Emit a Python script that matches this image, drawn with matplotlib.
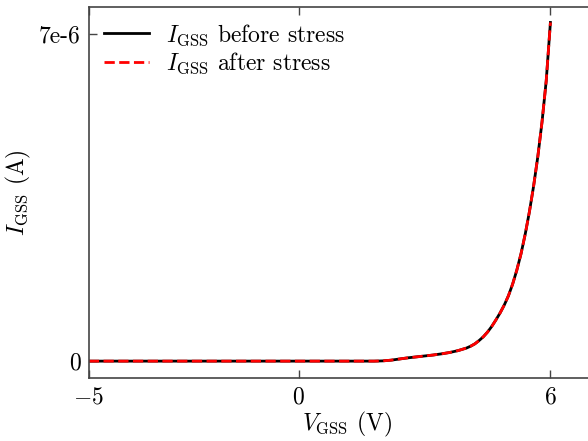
import matplotlib
matplotlib.use("Agg")
import matplotlib.pyplot as plt

plt.rcParams['font.family'] = 'serif'
plt.rcParams['font.serif'] = ['cmr10']
plt.rcParams['mathtext.fontset'] = 'cm'
plt.rcParams['axes.unicode_minus'] = False

v_gss = [-5.0, -4.0, -3.0, -2.0, -1.0, 0.0, 1.0, 1.8, 2.0, 2.2, 2.4, 2.6, 2.8, 3.0,
         3.2, 3.4, 3.6, 3.8, 4.0, 4.1, 4.2, 4.3, 4.4, 4.5, 4.6, 4.7, 4.8, 4.9,
         5.0, 5.1, 5.2, 5.3, 5.4, 5.5, 5.6, 5.7, 5.8, 5.9, 6.0]
i_before = [0.0, 0.0, 0.0, 0.0, 0.0, 0.0, 0.0, 0.0, 0.005, 0.02, 0.045, 0.07, 0.09, 0.11,
            0.13, 0.155, 0.185, 0.225, 0.28, 0.32, 0.37, 0.44, 0.52, 0.62, 0.74, 0.88, 1.03, 1.2,
            1.4, 1.65, 1.95, 2.3, 2.72, 3.2, 3.75, 4.38, 5.12, 6.0, 7.25]
i_after = [0.0, 0.0, 0.0, 0.0, 0.0, 0.0, 0.0, 0.0, 0.005, 0.02, 0.045, 0.07, 0.09, 0.11,
           0.13, 0.155, 0.185, 0.225, 0.28, 0.32, 0.37, 0.44, 0.52, 0.62, 0.74, 0.88, 1.03, 1.2,
           1.4, 1.65, 1.95, 2.3, 2.72, 3.2, 3.75, 4.38, 5.12, 6.0, 7.25]
scale = 1e-6

x_ticks = [-5, 0, 6]
x_ticklabels = ['$-5$', '$0$', '$6$']
y_ticks = [0, 7e-6]
y_ticklabels = ['0', '7e-6']

fig = plt.figure(figsize=(5.88, 4.41), dpi=100)
ax = fig.add_axes([0.151, 0.143, 0.88, 0.841])

ax.plot(v_gss, [i * scale for i in i_before], color='black', lw=2.0,
        label=r'$I_{\mathrm{GSS}}$ before stress')
ax.plot(v_gss, [i * scale for i in i_after], color='red', lw=2.0, ls='--',
        label=r'$I_{\mathrm{GSS}}$ after stress')

ax.set_xlim(-5, 7.33)
ax.set_ylim(-0.36e-6, 7.58e-6)
ax.set_xticks(x_ticks)
ax.set_xticklabels(x_ticklabels)
ax.set_yticks(y_ticks)
ax.set_yticklabels(y_ticklabels)
ax.tick_params(direction='in', top=True, right=False, labelsize=17, length=6, width=1.0,
               color='#444444', pad=6)
for s in ax.spines.values():
    s.set_color('#444444')
    s.set_linewidth(1.2)

ax.set_xlabel(r'$V_{\mathrm{GSS}}$ (V)', fontsize=17, labelpad=1)
ax.set_ylabel(r'$I_{\mathrm{GSS}}$ (A)', fontsize=17, labelpad=4)

ax.legend(loc='upper left', frameon=False, fontsize=17, handlelength=1.9,
          borderaxespad=0.25, labelspacing=0.12, handletextpad=0.7)

fig.savefig('out.png', dpi=100)
